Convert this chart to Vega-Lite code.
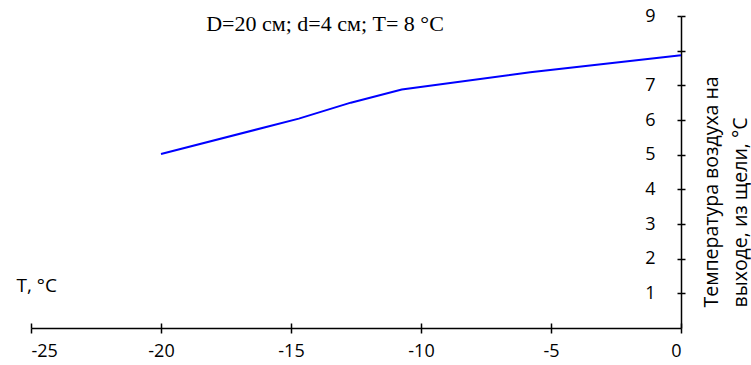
{
  "$schema": "https://vega.github.io/schema/vega-lite/v6.json",
  "width": 650,
  "height": 312,
  "autosize": "none",
  "padding": {"left": 31, "top": 16, "right": 70, "bottom": 37},
  "background": "white",
  "config": {"view": {"stroke": null}, "font": "Open Sans"},
  "title": {
    "text": "D=20 см; d=4 см; T= 8 °C",
    "font": "Liberation Serif",
    "fontSize": 22,
    "fontWeight": "normal",
    "color": "black",
    "anchor": "middle",
    "frame": "group",
    "dx": -31,
    "offset": -17,
    "dy": 29,
    "baseline": "alphabetic"
  },
  "data": {
    "values": [
      {"t": -20, "v": 5.02},
      {"t": -14.7, "v": 6.04},
      {"t": -12.7, "v": 6.5},
      {"t": -10.74, "v": 6.88},
      {"t": -5.8, "v": 7.38},
      {"t": 0, "v": 7.87}
    ]
  },
  "layer": [
    {
      "mark": {"type": "line", "color": "#0000ff", "strokeWidth": 2},
      "encoding": {
        "x": {
          "field": "t", "type": "quantitative",
          "scale": {"domain": [-25, 0], "nice": false, "zero": false},
          "axis": {
            "orient": "bottom", "values": [-25, -20, -15, -10, -5, 0],
            "labelExpr": "datum.value < 0 ? '-' + abs(datum.value) : '' + datum.value",
            "grid": false, "domain": true, "domainColor": "black", "domainWidth": 1.5,
            "tickColor": "black", "tickSize": 5, "tickWidth": 1.5,
            "labelFontSize": 18, "labelColor": "black", "labelPadding": 9, "labelFont": "Open Sans",
            "title": "T, °C", "titleX": -15, "titleY": -37, "titleAlign": "left",
            "titleBaseline": "alphabetic", "titleFontWeight": "normal", "titleFontSize": 19,
            "titleColor": "black", "titleFont": "Open Sans"
          }
        },
        "y": {
          "field": "v", "type": "quantitative",
          "scale": {"domain": [0, 9], "nice": false},
          "axis": {
            "orient": "left", "offset": -650, "values": [1, 2, 3, 4, 5, 6, 7, 8, 9],
            "labelExpr": "datum.value == 8 ? '' : datum.label",
            "grid": false, "domain": true, "domainColor": "black", "domainWidth": 1.5,
            "tickColor": "black", "tickSize": 4, "tickWidth": 1.5,
            "labelFontSize": 18, "labelColor": "black", "labelPadding": 22, "labelFont": "Open Sans",
            "title": null
          }
        }
      }
    },
    {
      "mark": {"type": "line", "opacity": 0},
      "encoding": {
        "x": {
          "field": "t", "type": "quantitative",
          "scale": {"domain": [-25, 0], "nice": false, "zero": false},
          "axis": {
            "orient": "top", "offset": -312, "values": [-25, -20, -15, -10, -5, 0],
            "grid": false, "domain": false, "labels": false,
            "tickColor": "black", "tickSize": 5, "tickWidth": 1.5, "title": null
          }
        },
        "y": {
          "field": "v", "type": "quantitative",
          "scale": {"domain": [0, 9], "nice": false},
          "axis": {
            "orient": "right", "values": [1, 2, 3, 4, 5, 6, 7, 8, 9],
            "grid": false, "domain": false, "labels": false,
            "tickColor": "black", "tickSize": 4, "tickWidth": 1.5,
            "title": ["Температура воздуха на", "выходе, из щели, °C"],
            "titleAngle": 270, "titleAlign": "left", "titleBaseline": "alphabetic",
            "titleX": 36, "titleY": 291, "titleLineHeight": 29,
            "titleFontSize": 19.5, "titleFontWeight": "normal", "titleColor": "black",
            "titleFont": "Open Sans"
          }
        }
      }
    }
  ],
  "resolve": {"axis": {"x": "independent", "y": "independent"}}
}
